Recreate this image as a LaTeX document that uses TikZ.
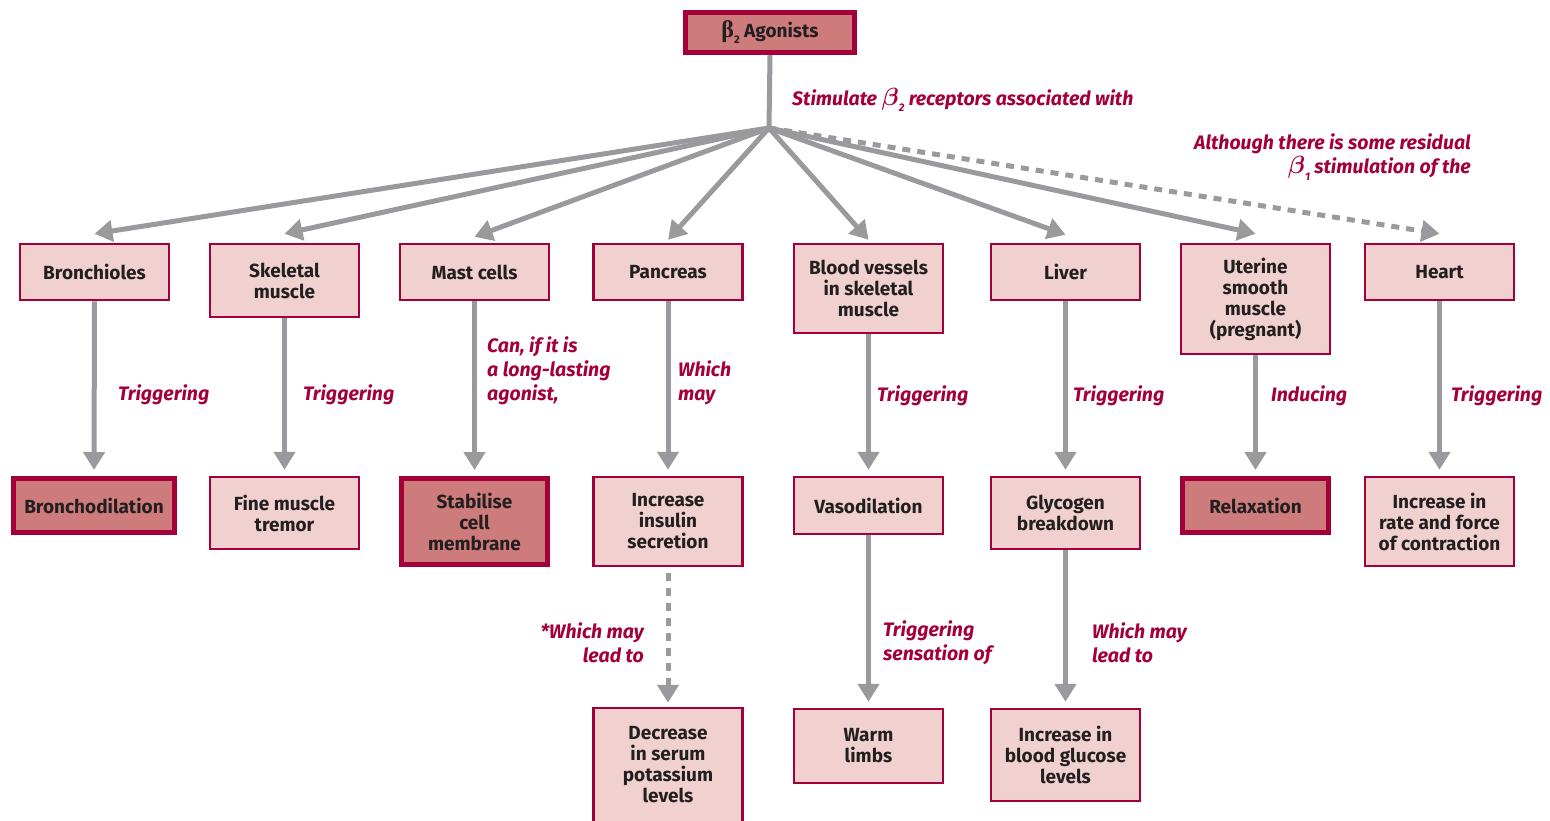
\documentclass[tikz,border=0pt]{standalone}
\usepackage{fontspec}
\setmainfont{Fira Sans}
\newfontfamily\greekfont{Liberation Serif}
\usetikzlibrary{arrows.meta}

\definecolor{crimson}{HTML}{A3003A}
\definecolor{lightfill}{HTML}{F0D1D0}
\definecolor{darkfill}{HTML}{CE7C7B}
\definecolor{arrowgray}{HTML}{9A9A9E}
\definecolor{ink}{HTML}{231F20}

\newcommand{\betasub}[1]{{\greekfont\fontsize{24}{24}\selectfont β}\raisebox{-0.6ex}{\fontsize{11}{11}\selectfont #1}}
\newcommand{\betanote}[1]{{\fontsize{24}{24}\selectfont\boldmath$\beta$}\raisebox{-0.6ex}{\fontsize{11}{11}\selectfont #1}}

\tikzset{
  box/.style={draw=crimson, line width=2.5pt, fill=lightfill, text=ink,
    font=\fontsize{19}{21}\selectfont\bfseries, align=center, inner sep=0pt,
    minimum width=149pt},
  keybox/.style={box, fill=darkfill, line width=5pt, minimum width=146pt},
  trunk/.style={draw=arrowgray, line width=5pt},
  conn/.style={trunk, -{Triangle[length=18pt,width=21pt]}},
  maybe/.style={conn, dash pattern=on 8pt off 7pt},
  note/.style={text=crimson, font=\fontsize{19.5}{24}\selectfont\bfseries\itshape,
    inner sep=0pt}
}

\begin{document}
\begin{tikzpicture}[x=1pt,y=-1pt]
\useasboundingbox (0,0) rectangle (1550,820);

% root
\node[keybox, minimum width=169pt, minimum height=40pt] (root) at (770,32.5) {\betasub{2} Agonists};
\coordinate (hub) at (769,128);

% tissues
\node[box, minimum height=56pt]  (bron)  at (94.5,272)   {Bronchioles};
\node[box, minimum height=73pt]  (skel)  at (284.5,280.5) {Skeletal\\muscle};
\node[box, minimum height=56pt]  (mast)  at (474.5,272)  {Mast cells};
\node[box, minimum height=56pt]  (panc)  at (668,272)    {Pancreas};
\node[box, minimum height=89pt]  (vess)  at (868.5,288.5) {Blood vessels\\in skeletal\\muscle};
\node[box, minimum height=56pt]  (liver) at (1065.5,272) {Liver};
\node[box, minimum height=110pt] (uter)  at (1255.5,299) {Uterine\\smooth\\muscle\\(pregnant)};
\node[box, minimum height=56pt]  (heart) at (1439.5,272) {Heart};

% effects
\node[keybox, minimum width=161pt, minimum height=54pt] (bdil) at (94,505.5) {Bronchodilation};
\node[box, minimum height=72pt]  (trem)  at (284.5,513)  {Fine muscle\\tremor};
\node[keybox, minimum height=86pt] (stab) at (474.5,521.5) {Stabilise\\cell\\membrane};
\node[box, minimum height=89pt]  (insul) at (668,521.5)  {Increase\\insulin\\secretion};
\node[box, minimum height=57pt]  (vdil)  at (868.5,505.5) {Vasodilation};
\node[box, minimum height=72pt]  (glyc)  at (1065.5,513) {Glycogen\\breakdown};
\node[keybox, minimum height=54pt] (relax) at (1255.5,505.5) {Relaxation};
\node[box, minimum height=89pt]  (rate)  at (1439.5,521.5) {Increase in\\rate and force\\of contraction};

% further effects
\node[box, minimum height=114pt] (potas) at (668,765)    {Decrease\\in serum\\potassium\\levels};
\node[box, minimum height=74pt]  (warm)  at (868.5,746)  {Warm\\limbs};
\node[box, minimum height=92pt]  (gluc)  at (1065.5,755) {Increase in\\blood glucose\\levels};

% fan-out from the agonist
\draw[trunk] (root.south) -- (hub);
\draw[conn] (hub) -- ([yshift=9pt]bron.north);
\draw[conn] (hub) -- ([yshift=9pt]skel.north);
\draw[conn] (hub) -- ([yshift=6pt]mast.north);
\draw[conn] (hub) -- ([yshift=3pt]panc.north);
\draw[conn] (hub) -- ([yshift=3pt]vess.north);
\draw[conn] (hub) -- ([yshift=8pt]liver.north);
\draw[conn] (hub) -- ([yshift=9pt]uter.north);
\draw[maybe] (hub) -- ([yshift=9pt]heart.north);

% tissue to effect
\draw[conn, shorten >=6pt] (bron.south) -- (bdil.north);
\draw[conn, shorten >=6pt] (skel.south) -- (trem.north);
\draw[conn, shorten >=6pt] (mast.south) -- (stab.north);
\draw[conn, shorten >=6pt] (panc.south) -- (insul.north);
\draw[conn, shorten >=6pt] (vess.south) -- (vdil.north);
\draw[conn, shorten >=6pt] (liver.south) -- (glyc.north);
\draw[conn, shorten >=6pt] (uter.south) -- (relax.north);
\draw[conn, shorten >=6pt] (heart.south) -- (rate.north);

% second-order effects
\draw[maybe, shorten <=6pt, shorten >=4pt] (insul.south) -- (potas.north);
\draw[conn, shorten >=6pt] (vdil.south) -- (warm.north);
\draw[conn, shorten >=6pt] (glyc.south) -- (gluc.north);

% connector notes
\node[note, anchor=west] (n0) at (792,100) {Stimulate \betanote{2} receptors associated with};
\node[note, anchor=east, align=right] (n1) at (1471,157) {Although there is some residual\\\betanote{1} stimulation of the};
\node[note, anchor=west] (n2) at (118,395) {Triggering};
\node[note, anchor=west] (n3) at (303,395) {Triggering};
\node[note, anchor=west, align=left] (n4) at (487,371) {Can, if it is\\a long-lasting\\agonist,};
\node[note, anchor=west, align=left] (n5) at (678,383) {Which\\may};
\node[note, anchor=west] (n6) at (877,396) {Triggering};
\node[note, anchor=west] (n7) at (1073,396) {Triggering};
\node[note, anchor=west] (n8) at (1271,396) {Inducing};
\node[note, anchor=west] (n9) at (1451,396) {Triggering};
\node[note, anchor=east, align=right] (n10) at (644,643) {*Which may\\lead to};
\node[note, anchor=west, align=left] (n11) at (883,643) {Triggering\\sensation of};
\node[note, anchor=west, align=left] (n12) at (1092,643) {Which may\\lead to};
\end{tikzpicture}
\end{document}
